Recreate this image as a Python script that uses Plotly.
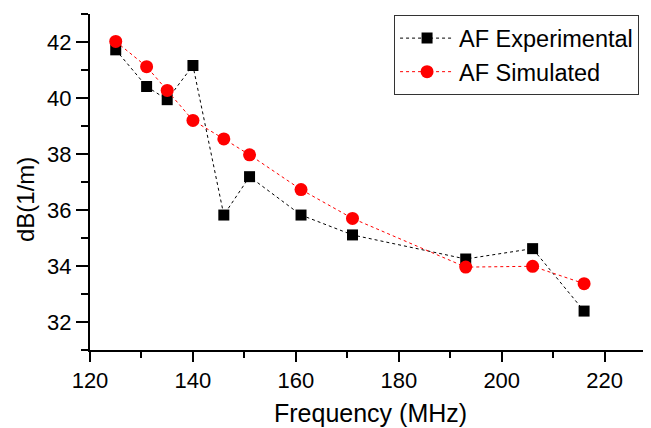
import plotly.graph_objects as go

freq_exp = [125, 131, 135, 140, 146, 151, 161, 171, 193, 206, 216]
af_exp = [41.72, 40.41, 39.94, 41.16, 35.82, 37.19, 35.82, 35.11, 34.25, 34.62, 32.39]
freq_sim = [125, 131, 135, 140, 146, 151, 161, 171, 193, 206, 216]
af_sim = [42.02, 41.12, 40.27, 39.20, 38.54, 37.97, 36.73, 35.70, 33.96, 33.99, 33.37]

x_title = "Frequency (MHz)"
y_title = "dB(1/m)"

font = "Arial, Liberation Sans, sans-serif"

fig = go.Figure()
fig.add_trace(go.Scatter(
    x=freq_exp, y=af_exp, mode="lines+markers", name="AF Experimental",
    line=dict(color="black", width=1, dash="dot"),
    marker=dict(symbol="square", size=11, color="black"),
))
fig.add_trace(go.Scatter(
    x=freq_sim, y=af_sim, mode="lines+markers", name="AF Simulated",
    line=dict(color="red", width=1, dash="dot"),
    marker=dict(symbol="circle", size=13, color="red"),
))

# the page body has an 8px margin, so the figure is drawn 8px smaller
fig.update_layout(
    width=643, height=420,
    margin=dict(l=82, r=0, t=6, b=78, pad=0),
    paper_bgcolor="white", plot_bgcolor="white",
    font=dict(family=font, size=22, color="black"),
    showlegend=True,
    legend=dict(
        x=0.542, y=0.996, xanchor="left", yanchor="top",
        bordercolor="#333", borderwidth=1, bgcolor="white",
        font=dict(size=23.5, family=font),
        tracegroupgap=0, itemwidth=54,
    ),
    xaxis=dict(
        range=[120, 229], tickvals=[120, 140, 160, 180, 200, 220],
        automargin=False,
        showgrid=False, zeroline=False, showline=True, linecolor="black", linewidth=2,
        ticks="outside", ticklen=10, tickwidth=2, tickcolor="black",
        minor=dict(tickvals=[130, 150, 170, 190, 210], ticks="outside", ticklen=6, tickwidth=2, tickcolor="black"),
        tickfont=dict(size=22),
    ),
    yaxis=dict(
        range=[31, 43], tickvals=[32, 34, 36, 38, 40, 42],
        automargin=False,
        showgrid=False, zeroline=False, showline=True, linecolor="black", linewidth=2,
        ticks="outside", ticklen=12, tickwidth=2, tickcolor="black",
        minor=dict(tickvals=[31, 33, 35, 37, 39, 41, 43], ticks="outside", ticklen=7, tickwidth=2, tickcolor="black"),
        tickfont=dict(size=22),
    ),
    annotations=[
        dict(text=x_title, xref="paper", yref="paper", x=0.5, y=-0.1875,
             xanchor="center", yanchor="middle", showarrow=False, font=dict(size=25)),
        dict(text=y_title, xref="paper", yref="paper", x=-0.116, y=0.449,
             xanchor="center", yanchor="middle", textangle=-90, showarrow=False, font=dict(size=24)),
    ],
)

fig.write_html("out.html")
